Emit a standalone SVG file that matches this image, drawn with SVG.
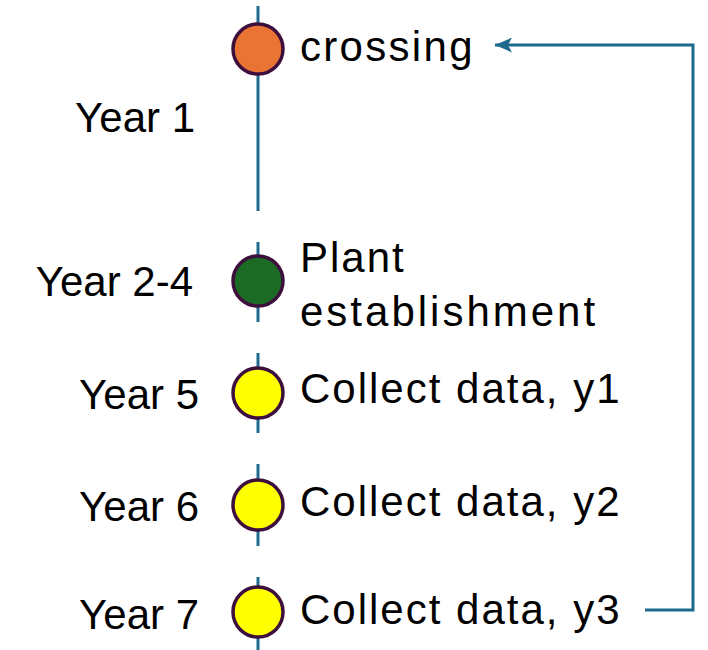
<svg xmlns="http://www.w3.org/2000/svg" width="708" height="650" viewBox="0 0 708 650">
  <defs>
    <style>
      .axis { stroke: #1f6a8c; stroke-width: 3; fill: none; }
      .dot { stroke: #3d0f3d; stroke-width: 3.5; }
      .lbl { font-family: "Liberation Sans", Arial, sans-serif; font-size: 42px; fill: #000; }
      .step { letter-spacing: 2px; }
      .yr { text-anchor: end; }
    </style>
    <marker id="arrowhead" viewBox="0 0 17 15" refX="17" refY="7.5" markerWidth="17" markerHeight="15" orient="auto" markerUnits="userSpaceOnUse">
      <path d="M0,0 L17,7.5 L0,15 L4,7.5 Z" fill="#1f6a8c"/>
    </marker>
  </defs>
  <rect width="708" height="650" fill="#fff"/>

  <!-- timeline spine segments and loop-back connector -->
  <g id="connectors">
    <line class="axis" x1="258" y1="6" x2="258" y2="211"/>
    <line class="axis" x1="258" y1="242" x2="258" y2="322"/>
    <line class="axis" x1="258" y1="353" x2="258" y2="433"/>
    <line class="axis" x1="258" y1="464" x2="258" y2="546"/>
    <line class="axis" x1="258" y1="577" x2="258" y2="650"/>
    <polyline class="axis" points="645,610 693,610 693,45 495,45" marker-end="url(#arrowhead)"/>
  </g>

  <g id="year1">
    <circle class="dot" cx="258" cy="49" r="25" fill="#ea7434"/>
    <text class="lbl" x="300" y="61" style="letter-spacing:2.3px">crossing</text>
    <text class="lbl yr" x="195" y="132">Year 1</text>
  </g>

  <g id="year2-4">
    <circle class="dot" cx="258" cy="281" r="25" fill="#1c6b25"/>
    <text class="lbl step" x="300" y="272">Plant</text>
    <text class="lbl" x="300" y="326" style="letter-spacing:3px">establishment</text>
    <text class="lbl yr" x="193" y="296">Year 2-4</text>
  </g>

  <g id="year5">
    <circle class="dot" cx="258" cy="393" r="25" fill="#ffff00"/>
    <text class="lbl step" x="300" y="403">Collect data, y1</text>
    <text class="lbl yr" x="199" y="409">Year 5</text>
  </g>

  <g id="year6">
    <circle class="dot" cx="258" cy="505" r="25" fill="#ffff00"/>
    <text class="lbl step" x="300" y="516">Collect data, y2</text>
    <text class="lbl yr" x="199" y="521">Year 6</text>
  </g>

  <g id="year7">
    <circle class="dot" cx="258" cy="612" r="25" fill="#ffff00"/>
    <text class="lbl step" x="300" y="624">Collect data, y3</text>
    <text class="lbl yr" x="199" y="629">Year 7</text>
  </g>
</svg>
